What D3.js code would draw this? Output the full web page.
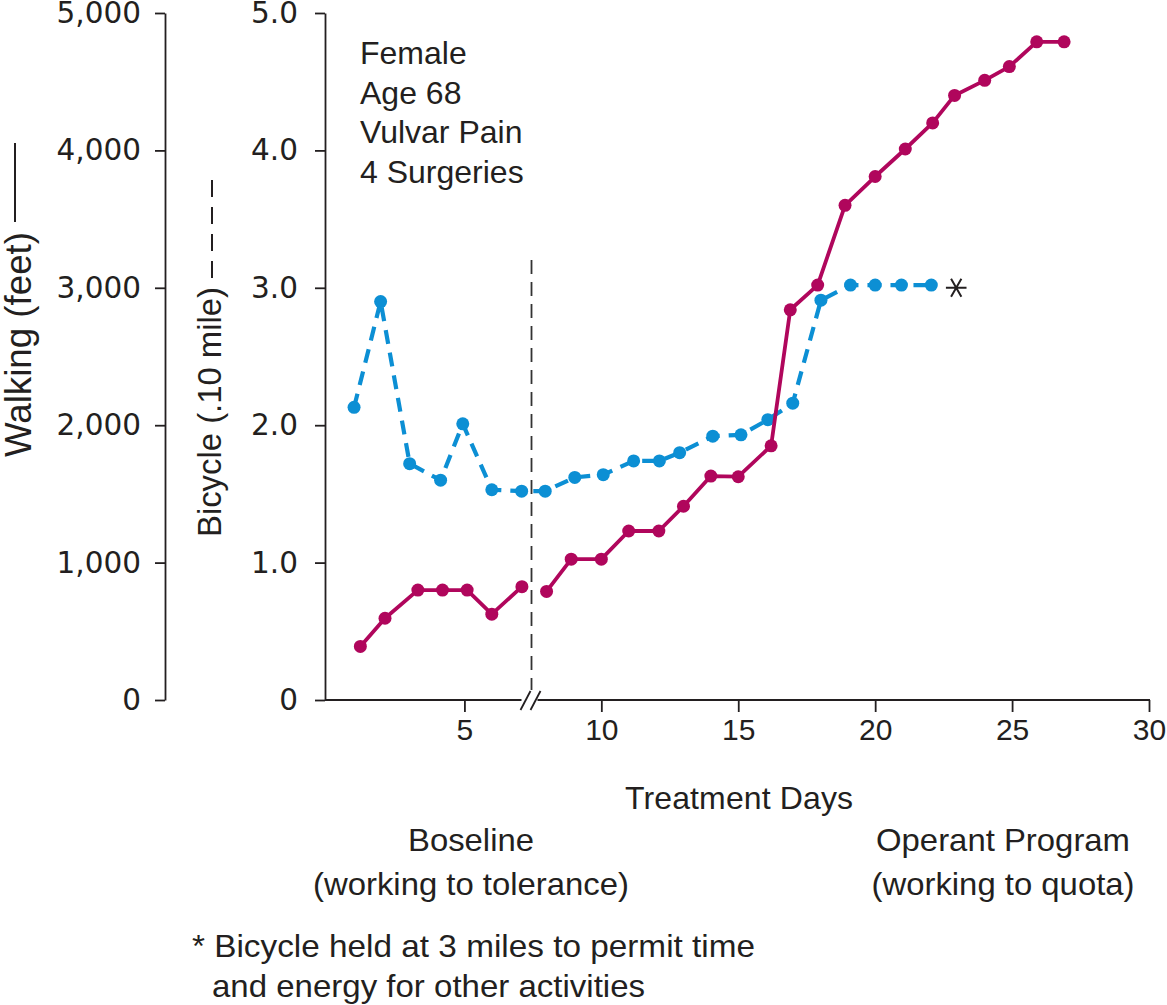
<!DOCTYPE html>
<html>
<head>
<meta charset="utf-8">
<script src="https://cdn.jsdelivr.net/npm/d3@7"></script>
<style>
  html, body { margin: 0; padding: 0; background: #fff; }
  svg { display: block; }
  text { fill: #231f20; }
</style>
</head>
<body>
<svg id="chart" width="1167" height="1005"></svg>
<script>
// ---- Data ----
const walkDays = [1.2, 2.1, 3.3, 4.2, 5.1, 6.0, 7.1, 8.0, 8.9, 10.0, 11.0, 12.1, 13.0, 14.0, 15.0, 16.2, 16.9, 17.9, 18.9, 20.0, 21.1, 22.1, 22.9, 24.0, 24.9, 25.9, 26.9];
const walkFeet = [390, 595, 800, 800, 800, 625, 825, 790, 1025, 1025, 1230, 1230, 1410, 1630, 1625, 1850, 2840, 3020, 3600, 3810, 4010, 4200, 4400, 4510, 4610, 4790, 4790];
const walkPhase = [0, 0, 0, 0, 0, 0, 0, 1, 1, 1, 1, 1, 1, 1, 1, 1, 1, 1, 1, 1, 1, 1, 1, 1, 1, 1, 1];

const bikeDays = [0.97, 1.94, 3.0, 4.13, 4.94, 6.0, 7.09, 7.95, 9.03, 10.07, 11.18, 12.12, 12.86, 14.07, 15.1, 16.08, 16.99, 18.02, 19.1, 20.0, 20.96, 22.05];
const bikeMiles = [2.13, 2.90, 1.72, 1.60, 2.01, 1.53, 1.52, 1.52, 1.62, 1.64, 1.74, 1.74, 1.80, 1.92, 1.93, 2.04, 2.16, 2.91, 3.02, 3.02, 3.02, 3.02];

const walkTicks = [0, 1000, 2000, 3000, 4000, 5000];
const bikeTicks = [0, 1, 2, 3, 4, 5];
const dayTicks = [5, 10, 15, 20, 25, 30];
const phaseBreakDay = 7.45;
const asteriskPoint = { day: 22.96, value: 3.0 };

const infoLines = ["Female", "Age 68", "Vulvar Pain", "4 Surgeries"];
const footnoteLines = ["* Bicycle held at 3 miles to permit time", "and energy for other activities"];

// ---- Setup ----
const svg = d3.select("#chart");
const FONT = "'Liberation Sans', Arial, Helvetica, sans-serif";
const TICKFONT = "'DejaVu Sans', Verdana, sans-serif";
const INK = "#231f20";
const MAGENTA = "#b0065c";
const BLUE = "#0c8fd4";

const x = d3.scaleLinear().domain([0, 30]).range([327.5, 1149]);
const yWalk = d3.scaleLinear().domain([0, 5000]).range([700, 13]);
const yBike = d3.scaleLinear().domain([0, 5]).range([700, 13]);

// Left axis (walking)
const gWalk = svg.append("g").attr("transform", "translate(165,0)")
  .call(d3.axisLeft(yWalk).tickValues(walkTicks).tickSize(10).tickPadding(14)
    .tickSizeOuter(0).tickFormat(d3.format(",")));
// Bicycle axis
const gBike = svg.append("g").attr("transform", "translate(325,0)")
  .call(d3.axisLeft(yBike).tickValues(bikeTicks).tickSize(10).tickPadding(17)
    .tickSizeOuter(0).tickFormat(d => d === 0 ? "0" : d.toFixed(1)));
[gWalk, gBike].forEach(g => {
  g.selectAll("path.domain").attr("stroke", INK).attr("stroke-width", 1.8);
  g.selectAll(".tick line").attr("stroke", INK).attr("stroke-width", 1.8);
  g.selectAll(".tick text").attr("font-family", TICKFONT).attr("font-size", 29.5).attr("fill", INK);
});

// Bottom axis
const gX = svg.append("g").attr("transform", "translate(0,700)")
  .call(d3.axisBottom(x).tickValues(dayTicks).tickSize(12).tickPadding(7).tickSizeOuter(0));
gX.select("path.domain").remove();
gX.selectAll(".tick line").attr("stroke", INK).attr("stroke-width", 1.8);
gX.selectAll(".tick text").attr("font-family", FONT).attr("font-size", 30).attr("fill", INK);

// domain line with break
const xb = x(phaseBreakDay);
svg.append("line").attr("x1", 325).attr("x2", xb - 10).attr("y1", 700).attr("y2", 700)
  .attr("stroke", INK).attr("stroke-width", 1.8);
svg.append("line").attr("x1", xb + 6).attr("x2", 1150).attr("y1", 700).attr("y2", 700)
  .attr("stroke", INK).attr("stroke-width", 1.8);
[-6, 4].forEach(o => {
  svg.append("line").attr("x1", xb + o - 5).attr("y1", 710).attr("x2", xb + o + 5).attr("y2", 691)
    .attr("stroke", INK).attr("stroke-width", 1.8);
});

// vertical phase-change dashed line
svg.append("line").attr("x1", xb).attr("x2", xb).attr("y1", 260).attr("y2", 690)
  .attr("stroke", "#333").attr("stroke-width", 1.8).attr("stroke-dasharray", "14,8");

// ---- Bicycle series (dashed) ----
const bikeData = bikeDays.map((d, i) => ({ day: d, v: bikeMiles[i] }));
svg.append("path").datum(bikeData)
  .attr("fill", "none").attr("stroke", BLUE).attr("stroke-width", 4.2)
  .attr("stroke-dasharray", "14,9")
  .attr("d", d3.line().x(d => x(d.day)).y(d => yBike(d.v)));
svg.selectAll("circle.bike").data(bikeData).enter().append("circle")
  .attr("class", "bike").attr("cx", d => x(d.day)).attr("cy", d => yBike(d.v))
  .attr("r", 6.5).attr("fill", BLUE);

// ---- Walking series (solid, broken at phase change) ----
const walkData = walkDays.map((d, i) => ({ day: d, v: walkFeet[i], p: walkPhase[i] }));
const walkLine = d3.line().x(d => x(d.day)).y(d => yWalk(d.v));
d3.groups(walkData, d => d.p).forEach(([p, seg]) => {
  svg.append("path").datum(seg)
    .attr("fill", "none").attr("stroke", MAGENTA).attr("stroke-width", 3.8)
    .attr("stroke-linejoin", "round").attr("d", walkLine);
});
svg.selectAll("circle.walk").data(walkData).enter().append("circle")
  .attr("class", "walk").attr("cx", d => x(d.day)).attr("cy", d => yWalk(d.v))
  .attr("r", 6.5).attr("fill", MAGENTA);

// asterisk marker
svg.append("path")
  .attr("d", d3.symbol().type(d3.symbolAsterisk).size(300)())
  .attr("transform", `translate(${x(asteriskPoint.day)},${yBike(asteriskPoint.value)}) rotate(90)`)
  .attr("fill", "none").attr("stroke", INK).attr("stroke-width", 2);

// ---- Texts ----
const info = svg.append("g");
infoLines.forEach((t, i) => {
  info.append("text").attr("x", 360).attr("y", 64 + i * 39.7)
    .attr("font-family", FONT).attr("font-size", 32).text(t);
});

svg.append("text").attr("x", 739).attr("y", 809).attr("text-anchor", "middle")
  .attr("font-family", FONT).attr("font-size", 32).attr("textLength", 228).text("Treatment Days");

const phaseLabels = [
  { x: 471, lines: ["Boseline", "(working to tolerance)"], w: [126, 316] },
  { x: 1003, lines: ["Operant Program", "(working to quota)"], w: [254, 263] }
];
phaseLabels.forEach(pl => {
  pl.lines.forEach((t, i) => {
    svg.append("text").attr("x", pl.x).attr("y", 851 + i * 44).attr("text-anchor", "middle")
      .attr("font-family", FONT).attr("font-size", 32)
      .attr("textLength", pl.w[i]).attr("lengthAdjust", "spacingAndGlyphs").text(t);
  });
});

footnoteLines.forEach((t, i) => {
  svg.append("text").attr("x", i === 0 ? 192 : 212).attr("y", 957 + i * 40)
    .attr("font-family", FONT).attr("font-size", 32)
    .attr("textLength", i === 0 ? 563 : 433).attr("lengthAdjust", "spacingAndGlyphs").text(t);
});

// Y titles
svg.append("text").attr("transform", "translate(31,457) rotate(-90)")
  .attr("font-family", FONT).attr("font-size", 36)
  .attr("textLength", 225).attr("lengthAdjust", "spacingAndGlyphs").text("Walking (feet)");
svg.append("line").attr("x1", 15).attr("x2", 15).attr("y1", 143).attr("y2", 222)
  .attr("stroke", INK).attr("stroke-width", 2);

svg.append("text").attr("transform", "translate(221,537) rotate(-90)")
  .attr("font-family", FONT).attr("font-size", 34)
  .attr("textLength", 250).attr("lengthAdjust", "spacingAndGlyphs").text("Bicycle (.10 mile)");
svg.append("line").attr("x1", 212).attr("x2", 212).attr("y1", 278).attr("y2", 176)
  .attr("stroke", INK).attr("stroke-width", 2).attr("stroke-dasharray", "17,10");
</script>
</body>
</html>
